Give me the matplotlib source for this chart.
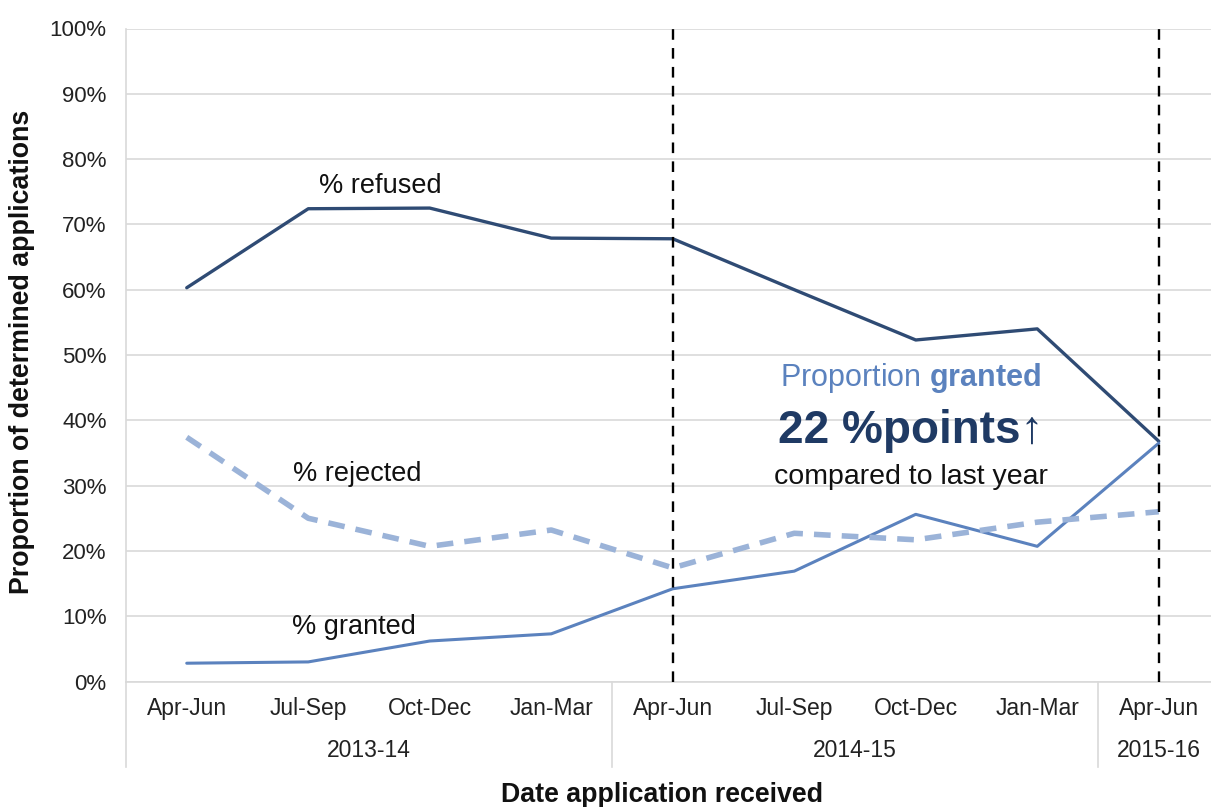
import matplotlib
matplotlib.use("Agg")
import matplotlib.pyplot as plt
import matplotlib.transforms as mtransforms

plt.rcParams['font.family'] = ['Liberation Sans', 'DejaVu Sans']
plt.rcParams['mathtext.fontset'] = 'custom'
plt.rcParams['mathtext.rm'] = 'Liberation Sans'
plt.rcParams['mathtext.bf'] = 'Liberation Sans:bold'

quarters = ["Apr-Jun", "Jul-Sep", "Oct-Dec", "Jan-Mar", "Apr-Jun", "Jul-Sep", "Oct-Dec", "Jan-Mar", "Apr-Jun"]
years = ["2013-14", "2014-15", "2015-16"]
year_spans = [(0, 3), (4, 7), (8, 8)]
refused = [60.3, 72.4, 72.5, 67.9, 67.8, 60.0, 52.3, 54.0, 36.8]
rejected = [37.4, 25.0, 20.7, 23.2, 17.4, 22.7, 21.7, 24.4, 26.0]
granted = [2.8, 3.0, 6.2, 7.3, 14.2, 16.9, 25.6, 20.7, 36.5]
yticks = [0, 10, 20, 30, 40, 50, 60, 70, 80, 90, 100]

c_refused = "#2F4B74"
c_granted = "#5B82BE"
c_rejected = "#9BB3D8"
c_grid = "#D9D9D9"

fig = plt.figure(figsize=(12.11, 8.07), dpi=100)
ax = fig.add_axes([126 / 1211, 1 - 681.5 / 807, (1211 - 126) / 1211, 653 / 807])

x = list(range(len(quarters)))
ax.plot(x, refused, color=c_refused, lw=2.4, solid_capstyle='round', zorder=3)
ax.plot(x, granted, color=c_granted, lw=2.2, solid_capstyle='round', zorder=3)
ax.plot(x, rejected, color=c_rejected, lw=4.0, dashes=(3.0, 2.0), zorder=3)

for xv in (4, 8):
    ax.plot([xv, xv], [0, 100], color="black", lw=1.7, dashes=(4.5, 3.5), zorder=4, clip_on=False)

ax.set_xlim(-0.5, 8.43)
ax.set_ylim(0, 100)
ax.set_yticks(yticks)
ax.set_yticklabels([f"{v}%" for v in yticks], fontsize=16, color="#222222")
ax.yaxis.grid(True, color=c_grid, lw=1.2)
ax.set_axisbelow(True)
ax.tick_params(axis='y', length=0, pad=14)

ax.set_xticks(x)
ax.set_xticklabels(quarters, fontsize=16.5, color="#222222")
ax.tick_params(axis='x', length=0, pad=11)

for s in ("top", "right"):
    ax.spines[s].set_visible(False)
ax.spines["left"].set_color(c_grid)
ax.spines["left"].set_linewidth(1.2)
ax.spines["bottom"].set_color(c_grid)
ax.spines["bottom"].set_linewidth(1.2)

trans = mtransforms.blended_transform_factory(ax.transData, ax.transAxes)
for xs in (-0.5, 3.5, 7.5):
    ax.plot([xs, xs], [0, -0.131], color=c_grid, lw=1.2, transform=trans, clip_on=False)
for label, (a, b) in zip(years, year_spans):
    ax.text((a + b) / 2, -0.105, label, transform=trans, ha="center", va="center",
            fontsize=16.5, color="#222222")

ax.text(1.59, 75.9, "% refused", ha="center", va="center", fontsize=19.5, color="#111111")
ax.text(1.40, 31.8, "% rejected", ha="center", va="center", fontsize=19.5, color="#111111")
ax.text(1.38, 8.4, "% granted", ha="center", va="center", fontsize=19.5, color="#111111")

ax.text(5.96, 46.5, "Proportion $\\mathbf{granted}$", ha="center", va="center", fontsize=22,
        color=c_granted)
ax.text(5.96, 38.3, "22 %points\u2191", ha="center", va="center", fontsize=33,
        fontweight="bold", color="#1F3A64")
ax.text(5.96, 31.3, "compared to last year", ha="center", va="center", fontsize=20.5,
        color="#111111")

fig.text(662 / 1211, 1 - 795 / 807, "Date application received", ha="center", va="center",
         fontsize=19.3, fontweight="bold", color="#111111")
fig.text(22 / 1211, 1 - 352 / 807, "Proportion of determined applications", ha="center",
         va="center", rotation=90, fontsize=19.3, fontweight="bold", color="#111111")

fig.savefig("out.png", dpi=100)
